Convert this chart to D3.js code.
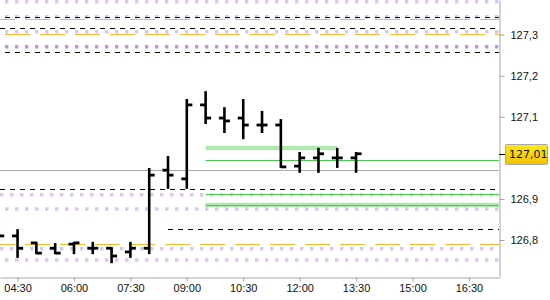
<!DOCTYPE html>
<html>
<head>
<meta charset="utf-8">
<script src="https://cdn.jsdelivr.net/npm/d3@7"></script>
<style>
  body { margin: 0; background: #fff; }
  svg { display: block; font-family: "DejaVu Sans", sans-serif; }
  .axis text { font-size: 11px; fill: #111; }
  .axis path, .axis line { stroke: #a6a6a6; }
</style>
</head>
<body>
<svg id="chart" width="550" height="300"></svg>
<script>
// 30 minute bars
var times  = ["04:00","04:30","05:00","05:30","06:00","06:30","07:00","07:30","08:00","08:30",
              "09:00","09:30","10:00","10:30","11:00","11:30","12:00","12:30","13:00","13:30"];
var opens  = [126.812,126.810,126.793,126.780,126.790,126.780,126.780,126.771,126.780,126.970,
              126.949,127.129,127.097,127.097,127.080,127.080,126.980,127.000,127.000,127.000];
var highs  = [126.820,126.824,126.793,126.790,126.793,126.793,126.780,126.793,126.973,127.002,
              127.141,127.160,127.121,127.141,127.112,127.092,127.012,127.022,127.022,127.012];
var lows   = [126.800,126.759,126.768,126.768,126.768,126.768,126.746,126.759,126.768,126.927,
              126.927,127.085,127.063,127.048,127.063,126.978,126.966,126.966,126.978,126.966];
var closes = [126.810,126.780,126.768,126.768,126.793,126.780,126.761,126.780,126.958,126.958,
              127.129,127.097,127.090,127.080,127.080,126.978,127.000,127.010,127.000,127.010];

var lastPrice = 127.01;

// horizontal levels
var dashedLevels = [127.3430, 127.3156, 127.2571, 126.9235];
var lateDashedLevels = [126.8275];
var lateDashedFrom = "08:30";
var orangeLevels = [127.3375, 127.3012, 126.7895];
var purpleLevels = [127.3804, 127.3438, 127.3073, 126.9103, 126.8755, 126.7788, 126.7513];
var purpleStrongLevels = [127.2708];
var greyLevels = [126.9705];
var greenLevels = [126.995, 126.911, 126.885];
var greenBandLevels = [127.024, 126.885];
var greenFrom = "09:30";
var greenBandTo = ["13:00", null];

var xTicks = ["04:30","06:00","07:30","09:00","10:30","12:00","13:30","15:00","16:30"];
var yTicks = [126.8, 126.9, 127.1, 127.2, 127.3];
var xDomain = ["04:02", "17:18"];
var yDomain = [126.7099, 127.3845];

function toDate(s) {
    var p = s.split(":");
    return new Date(2020, 0, 1, +p[0], +p[1]);
}

var svg = d3.select("#chart");
var width = 499, height = 277;

var x = d3.scaleTime().domain(xDomain.map(toDate)).range([0, width]);
var y = d3.scaleLinear().domain(yDomain).range([height, 0]);

svg.append("clipPath").attr("id", "plot")
  .append("rect").attr("width", width).attr("height", height);

var g = svg.append("g").attr("clip-path", "url(#plot)");

function hline(v, x0, x1, color, w, dash, offset) {
    var yy = Math.round(y(v)) + 0.5;
    var l = g.append("line")
      .attr("x1", x0).attr("x2", x1)
      .attr("y1", yy).attr("y2", yy)
      .style("stroke", color)
      .style("stroke-width", w);
    if (dash) l.style("stroke-dasharray", dash).style("stroke-dashoffset", offset || 0);
    return l;
}

// purple dotted bands
var squarePhase = [-5, -5, -5, 0, -5, 0, -5];
purpleLevels.forEach(function(v, i) {
    g.append("line")
      .attr("x1", 0).attr("x2", width)
      .attr("y1", y(v)).attr("y2", y(v))
      .style("stroke", "#dfc4ef").style("stroke-width", 3.4)
      .style("stroke-dasharray", "3.4,6.6").style("stroke-dashoffset", squarePhase[i]);
});
purpleStrongLevels.forEach(function(v) {
    g.append("line")
      .attr("x1", 0).attr("x2", width)
      .attr("y1", y(v)).attr("y2", y(v))
      .style("stroke", "#c98fe3").style("stroke-width", 3.4)
      .style("stroke-dasharray", "3.4,6.6").style("stroke-dashoffset", -5);
});

// green levels
greenBandLevels.forEach(function(v, i) {
    var end = greenBandTo[i] ? x(toDate(greenBandTo[i])) : width;
    g.append("line")
      .attr("x1", x(toDate(greenFrom))).attr("x2", end)
      .attr("y1", y(v)).attr("y2", y(v))
      .style("stroke", "#b1e9b1").style("stroke-width", 4.5);
});
greenLevels.forEach(function(v) {
    hline(v, x(toDate(greenFrom)), width, "#4cc94c", 1);
});

greyLevels.forEach(function(v) { hline(v, 0, width, "#a8a8a8", 1); });

// orange dashed
var orangePhase = [10, -5, 10];
orangeLevels.forEach(function(v, i) {
    hline(v, 0, width, "#f7b733", 1.2, "25,10", orangePhase[i]);
});

// black dashed
var dashPhase = [-5, 0, -5, 0];
dashedLevels.forEach(function(v, i) {
    hline(v, 0, width, "#000", 1, "5,5", dashPhase[i]).attr("shape-rendering", "crispEdges");
});
lateDashedLevels.forEach(function(v) {
    hline(v, x(toDate(lateDashedFrom)), width, "#000", 1, "5,5").attr("shape-rendering", "crispEdges");
});

// OHLC bars
var bars = times.map(function(t, i) {
    return { t: toDate(t), o: opens[i], h: highs[i], l: lows[i], c: closes[i] };
});

var bar = g.selectAll(".bar").data(bars).enter().append("g")
    .attr("class", "bar")
    .attr("transform", function(d) { return "translate(" + x(d.t) + ",0)"; })
    .style("stroke", "#000");

bar.append("line")
    .attr("x1", 0).attr("x2", 0)
    .attr("y1", function(d) { return y(d.h) - 1; })
    .attr("y2", function(d) { return y(d.l) + 1; })
    .style("stroke-width", 2.6);
bar.append("line")
    .attr("x1", -5.5).attr("x2", 0)
    .attr("y1", function(d) { return y(d.o); })
    .attr("y2", function(d) { return y(d.o); })
    .style("stroke-width", 2.8);
bar.append("line")
    .attr("x1", 0).attr("x2", 5.5)
    .attr("y1", function(d) { return y(d.c); })
    .attr("y2", function(d) { return y(d.c); })
    .style("stroke-width", 2.8);

// axes
var fmt = function(d) { return d3.format(".1f")(d).replace(".", ","); };

svg.append("g")
  .attr("class", "axis")
  .attr("transform", "translate(" + (width + 0.5) + ",0)")
  .call(d3.axisRight(y).tickValues(yTicks).tickFormat(fmt).tickSize(5).tickSizeOuter(0).tickPadding(6));

svg.append("g")
  .attr("class", "axis")
  .attr("transform", "translate(0," + (height + 0.5) + ")")
  .call(d3.axisBottom(x).tickValues(xTicks.map(toDate)).tickFormat(d3.timeFormat("%H:%M"))
        .tickSize(4).tickSizeOuter(0).tickPadding(3));

// last price marker
var grad = svg.append("defs").append("linearGradient")
    .attr("id", "gold").attr("x1", 0).attr("x2", 0).attr("y1", 0).attr("y2", 1);
grad.append("stop").attr("offset", "0%").attr("stop-color", "#ffe81c");
grad.append("stop").attr("offset", "100%").attr("stop-color", "#f2c200");

var ly = Math.round(y(lastPrice)) + 0.5;
svg.append("line")
  .attr("x1", width).attr("x2", width + 6)
  .attr("y1", ly).attr("y2", ly)
  .style("stroke", "#000");
svg.append("rect")
  .attr("x", 505.5).attr("y", ly - 10)
  .attr("width", 42).attr("height", 20)
  .attr("rx", 1)
  .style("fill", "url(#gold)")
  .style("stroke", "#a8a8a8");
svg.append("text")
  .attr("x", 509).attr("y", ly)
  .attr("dy", "0.35em")
  .style("font-size", "11px")
  .style("fill", "#111")
  .text(fmt2(lastPrice));

function fmt2(d) { return d3.format(".2f")(d).replace(".", ","); }
</script>
</body>
</html>
